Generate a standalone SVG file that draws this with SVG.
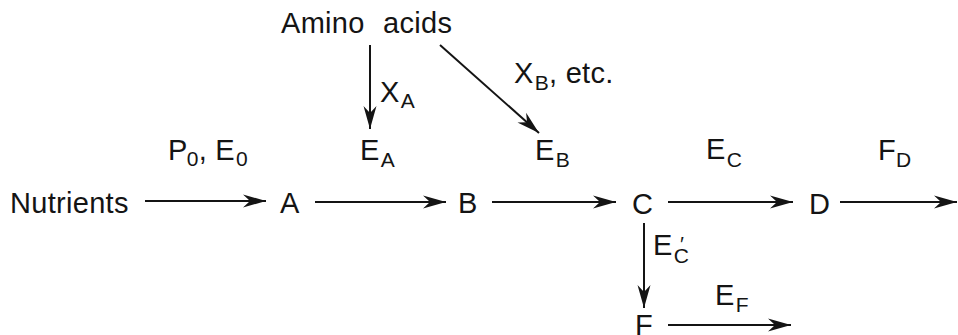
<svg xmlns="http://www.w3.org/2000/svg" width="958" height="335" viewBox="0 0 958 335">
<style>
text { font-family: "Liberation Sans", Arial, sans-serif; font-size: 29px; fill: #141414; letter-spacing: 0.3px; }
.sub { font-size: 21px; }
.conn line { stroke: #141414; stroke-width: 2; fill: none; marker-end: url(#ah); }
</style>
<defs>
<marker id="ah" viewBox="-24 -8 26 16" refX="0" refY="0" markerWidth="26" markerHeight="16" markerUnits="userSpaceOnUse" orient="auto">
<path d="M0,0 L-23,-6.5 L-16,0 L-23,6.5 Z" fill="#141414"/>
</marker>
</defs>
<rect width="958" height="335" fill="#fff"/>

<g id="amino"><text x="281" y="33" word-spacing="10">Amino acids</text></g>
<g id="nutrients"><text x="10" y="213">Nutrients</text></g>
<g id="A"><text x="280" y="213">A</text></g>
<g id="B"><text x="458" y="213">B</text></g>
<g id="C"><text x="632" y="214">C</text></g>
<g id="D"><text x="809" y="214">D</text></g>
<g id="F"><text x="635" y="335">F</text></g>

<g id="labels">
<text x="380" y="102">X<tspan class="sub" dx="1" dy="6">A</tspan></text>
<text x="514" y="83">X<tspan class="sub" dx="1" dy="7">B</tspan><tspan dy="-7">, etc.</tspan></text>
<text x="168" y="160">P<tspan class="sub" dx="-1" dy="6">0</tspan><tspan dy="-6">, E</tspan><tspan class="sub" dx="1" dy="6">0</tspan></text>
<text x="360" y="160">E<tspan class="sub" dx="1" dy="7">A</tspan></text>
<text x="535" y="160">E<tspan class="sub" dx="1" dy="7">B</tspan></text>
<text x="706" y="159">E<tspan class="sub" dx="1" dy="8">C</tspan></text>
<text x="878" y="160">F<tspan class="sub" dx="0" dy="7">D</tspan></text>
<text x="653" y="255">E<tspan class="sub" dx="1" dy="8">C</tspan></text>
<text class="sub" x="680" y="251">′</text>
<text x="715" y="305">E<tspan class="sub" dx="1" dy="7">F</tspan></text>
</g>

<g id="connectors" class="conn">
<line x1="370" y1="45" x2="370" y2="129"/>
<line x1="440" y1="45" x2="539" y2="133"/>
<line x1="145" y1="201" x2="266" y2="201"/>
<line x1="315" y1="202" x2="446" y2="202"/>
<line x1="492" y1="202" x2="616" y2="202"/>
<line x1="668" y1="202" x2="793" y2="202"/>
<line x1="840" y1="202" x2="957" y2="202"/>
<line x1="644" y1="223" x2="644" y2="308"/>
<line x1="668" y1="325" x2="791" y2="325"/>
</g>
</svg>
